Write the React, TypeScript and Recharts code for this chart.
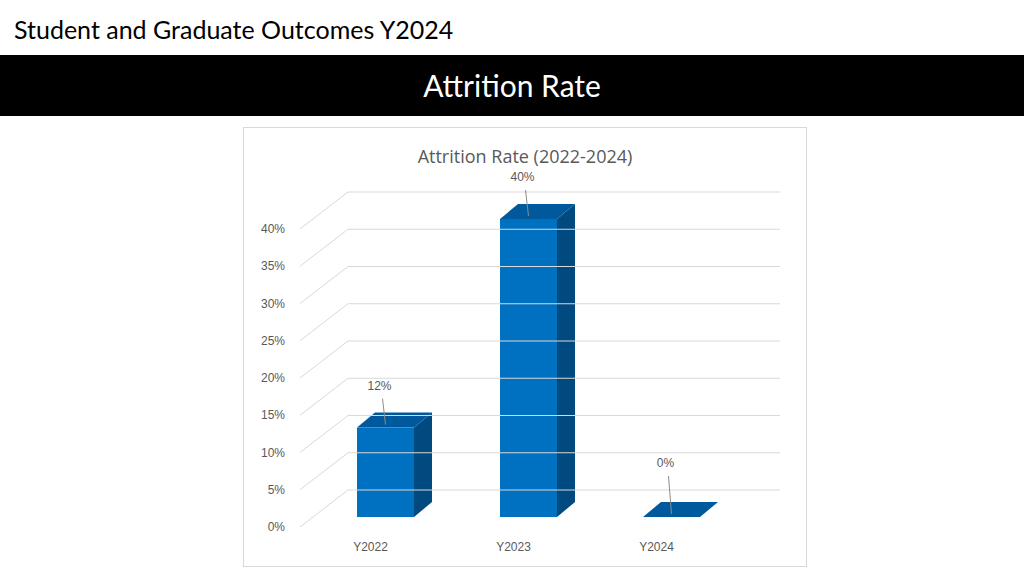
import React from "react";
import { BarChart, Bar, XAxis, YAxis, ReferenceLine, LabelList } from "recharts";

const years = ["Y2022", "Y2023", "Y2024"];
const rates = [12, 40, 0];
const yTicks = [0, 5, 10, 15, 20, 25, 30, 35, 40];

const data = years.map((y, i) => ({ year: y, rate: rates[i] }));

const DX = 18;
const DY = 15;
const GRID = "#d9d9d9";

const Bar3D = (props: any) => {
  const { x, y, width, height } = props;
  const front = "#0070C0";
  const top = "#00599C";
  const side = "#004A80";
  const bottom = y + height;
  return (
    <g>
      {height > 0 && <rect x={x} y={y} width={width} height={height} fill={front} />}
      {height > 0 && (
        <polygon
          points={`${x + width},${y} ${x + width + DX},${y - DY} ${x + width + DX},${bottom - DY} ${x + width},${bottom}`}
          fill={side}
        />
      )}
      <polygon
        points={`${x},${y} ${x + DX},${y - DY} ${x + width + DX},${y - DY} ${x + width},${y}`}
        fill={top}
      />
    </g>
  );
};

const GridShape = (props: any) => {
  const y = props.y1;
  return (
    <g>
      <line x1={300} y1={y + 10} x2={348} y2={y - 27} stroke={GRID} strokeWidth={1} />
      <line x1={348} y1={y - 27} x2={780} y2={y - 27} stroke={GRID} strokeWidth={1} />
    </g>
  );
};

const YTick = (props: any) => {
  const { y, payload } = props;
  return (
    <text x={285} y={y + 14} textAnchor="end" fontSize={12} fill="#595959" fontFamily="Liberation Sans">
      {payload.value}%
    </text>
  );
};

const XTick = (props: any) => {
  const { x, payload } = props;
  return (
    <text x={x - 15} y={551} textAnchor="middle" fontSize={12} fill="#595959" fontFamily="Liberation Sans">
      {payload.value}
    </text>
  );
};

const ValueLabel = (props: any) => {
  const { x, y, width, value } = props;
  const cx = x + width / 2;
  const off = value === 0 ? 50 : 38;
  return (
    <g>
      <line x1={cx - 3} y1={y - off + 9} x2={cx} y2={y - 3} stroke="#8c8c8c" strokeWidth={1} />
      <text x={cx - 6} y={y - off} textAnchor="middle" fontSize={12} fill="#595959" fontFamily="Liberation Sans">
        {value}%
      </text>
    </g>
  );
};

export default function App() {
  return (
    <div style={{ position: "absolute", left: 0, top: 0, width: 1024, height: 576, background: "#fff", fontFamily: "Lato, sans-serif" }}>
      <div style={{ position: "absolute", left: 14, top: 14, fontSize: 25, color: "#000" }}>
        Student and Graduate Outcomes Y2024
      </div>
      <div style={{ position: "absolute", left: 0, top: 55, width: 1024, height: 61, background: "#000", color: "#fff", fontSize: 30, textAlign: "center", lineHeight: "61px" }}>
        Attrition Rate
      </div>
      <div style={{ position: "absolute", left: 243, top: 127, width: 562, height: 438, border: "1px solid #d9d9d9" }} />
      <div style={{ position: "absolute", left: 243, top: 144, width: 564, textAlign: "center", fontSize: 18, color: "#595959", fontFamily: "Open Sans" }}>
        Attrition Rate (2022-2024)
      </div>
      <div style={{ position: "absolute", left: 0, top: 0 }}>
        <BarChart
          width={1024}
          height={576}
          data={data}
          margin={{ top: 219, right: 281, bottom: 0, left: 254 }}
          barCategoryGap={43}
        >
          <XAxis dataKey="year" axisLine={false} tickLine={false} tick={<XTick />} height={59} />
          <YAxis domain={[0, 40]} ticks={yTicks} axisLine={false} tickLine={false} tick={<YTick />} width={60} />
          {yTicks.map((t) => (
            <ReferenceLine key={t} y={t} shape={<GridShape />} />
          ))}
          <Bar dataKey="rate" shape={<Bar3D />} isAnimationActive={false}>
            <LabelList dataKey="rate" content={<ValueLabel />} />
          </Bar>
        </BarChart>
      </div>
    </div>
  );
}
